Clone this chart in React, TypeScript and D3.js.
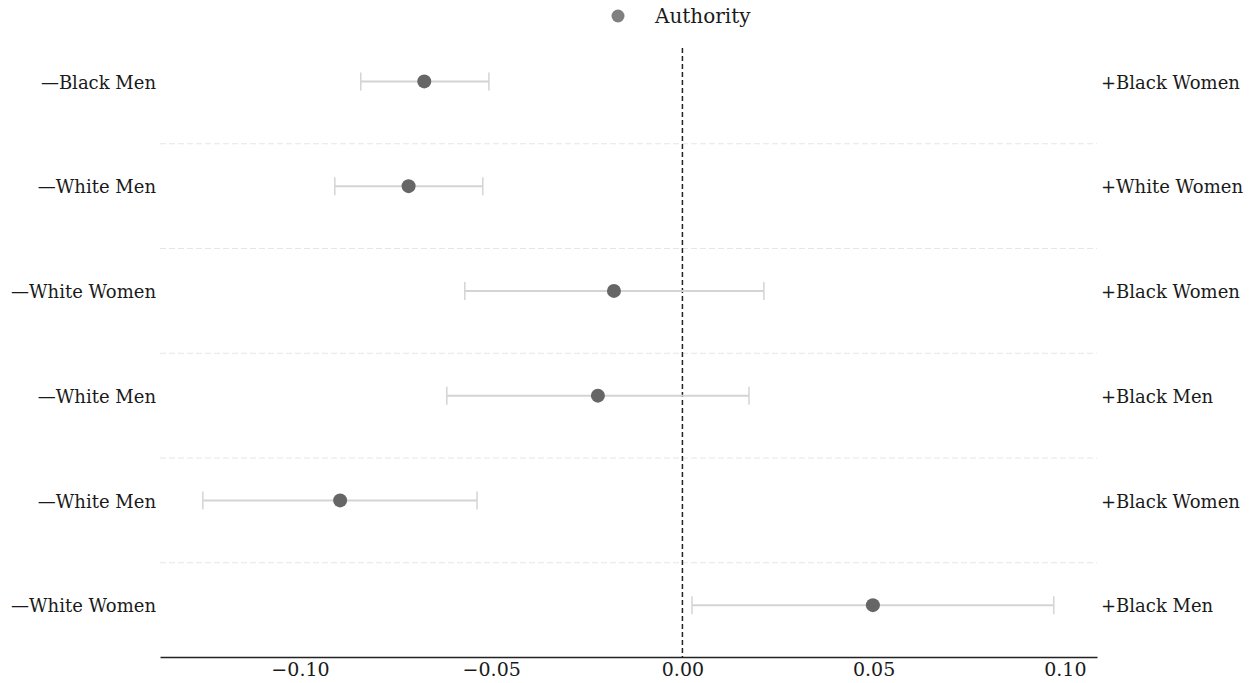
import * as d3 from "d3";
import React, { useEffect, useRef } from "react";

const leftLabels = ["—Black Men", "—White Men", "—White Women", "—White Men", "—White Men", "—White Women"];
const rightLabels = ["+Black Women", "+White Women", "+Black Women", "+Black Men", "+Black Women", "+Black Men"];
const estimates = [-0.0675, -0.0716, -0.0179, -0.0221, -0.0895, 0.0498];
const lower = [-0.0841, -0.0909, -0.0569, -0.0616, -0.1254, 0.0025];
const upper = [-0.0506, -0.0522, 0.0213, 0.0174, -0.0537, 0.0971];
const ticks = [-0.1, -0.05, 0, 0.05, 0.1];
const legendLabel = "Authority";

const W = 1253;
const H = 683;
const FONT = "'DejaVu Serif', serif";

export default function App() {
  const ref = useRef<SVGSVGElement>(null);

  useEffect(() => {
    const svg = d3.select(ref.current);
    svg.selectAll("*").remove();

    const x = d3.scaleLinear().domain([-0.1366, 0.1084]).range([160, 1097]);
    const rows = d3.range(estimates.length);
    const y = d3.scaleBand<number>().domain(rows).range([29, 657.5]);
    const cy = (i: number) => (y(i) as number) + y.bandwidth() / 2;

    // row separators (sit a little below the band edge, like the original)
    svg.append("g")
      .selectAll("line")
      .data(rows.slice(1))
      .join("line")
      .attr("x1", 160)
      .attr("x2", 1097)
      .attr("y1", (i) => (y(i) as number) + 10)
      .attr("y2", (i) => (y(i) as number) + 10)
      .attr("stroke", "#e6e6e6")
      .attr("stroke-width", 1)
      .attr("stroke-dasharray", "6,3");

    // zero line
    svg.append("line")
      .attr("x1", x(0))
      .attr("x2", x(0))
      .attr("y1", 48)
      .attr("y2", 657)
      .attr("stroke", "#222")
      .attr("stroke-width", 1.5)
      .attr("stroke-dasharray", "5,3");

    // error bars
    const eb = svg.append("g").selectAll("g").data(rows).join("g");
    eb.append("line")
      .attr("x1", (i) => x(lower[i]))
      .attr("x2", (i) => x(upper[i]))
      .attr("y1", cy)
      .attr("y2", cy)
      .attr("stroke", "#d4d4d4")
      .attr("stroke-width", 2);
    [lower, upper].forEach((arr) => {
      eb.append("line")
        .attr("x1", (i) => x(arr[i]))
        .attr("x2", (i) => x(arr[i]))
        .attr("y1", (i) => cy(i) - 9)
        .attr("y2", (i) => cy(i) + 9)
        .attr("stroke", "#d4d4d4")
        .attr("stroke-width", 1.5);
    });
    eb.append("circle")
      .attr("cx", (i) => x(estimates[i]))
      .attr("cy", cy)
      .attr("r", 7)
      .attr("fill", "#666666");

    // row labels
    svg.append("g")
      .selectAll("text")
      .data(rows)
      .join("text")
      .attr("x", 156)
      .attr("y", (i) => cy(i) + 1)
      .attr("dy", "0.35em")
      .attr("text-anchor", "end")
      .style("font-family", FONT)
      .style("font-size", "18px")
      .attr("fill", "#1a1a1a")
      .text((i) => leftLabels[i]);
    svg.append("g")
      .selectAll("text")
      .data(rows)
      .join("text")
      .attr("x", 1101)
      .attr("y", (i) => cy(i) + 1)
      .attr("dy", "0.35em")
      .attr("text-anchor", "start")
      .style("font-family", FONT)
      .style("font-size", "18px")
      .attr("fill", "#1a1a1a")
      .text((i) => rightLabels[i]);

    // x axis
    const axis = svg.append("g")
      .attr("transform", "translate(0,657)")
      .call(d3.axisBottom(x).tickValues(ticks).tickSize(0).tickPadding(6)
        .tickFormat((d) => d3.format(".2f")(d as number).replace("-", "−")));
    axis.select(".domain").attr("stroke", "#222").attr("stroke-width", 1.5);
    axis.selectAll("text")
      .style("font-family", FONT)
      .style("font-size", "19px")
      .attr("fill", "#1a1a1a");

    // legend
    svg.append("circle").attr("cx", 618).attr("cy", 16).attr("r", 6.5).attr("fill", "#808080");
    svg.append("text")
      .attr("x", 655)
      .attr("y", 16)
      .attr("dy", "0.35em")
      .style("font-family", FONT)
      .style("font-size", "20px")
      .attr("fill", "#1a1a1a")
      .text(legendLabel);
  }, []);

  return (
    <svg ref={ref} width={W} height={H}
      style={{ position: "absolute", left: 0, top: 0, background: "#fff" }} />
  );
}
